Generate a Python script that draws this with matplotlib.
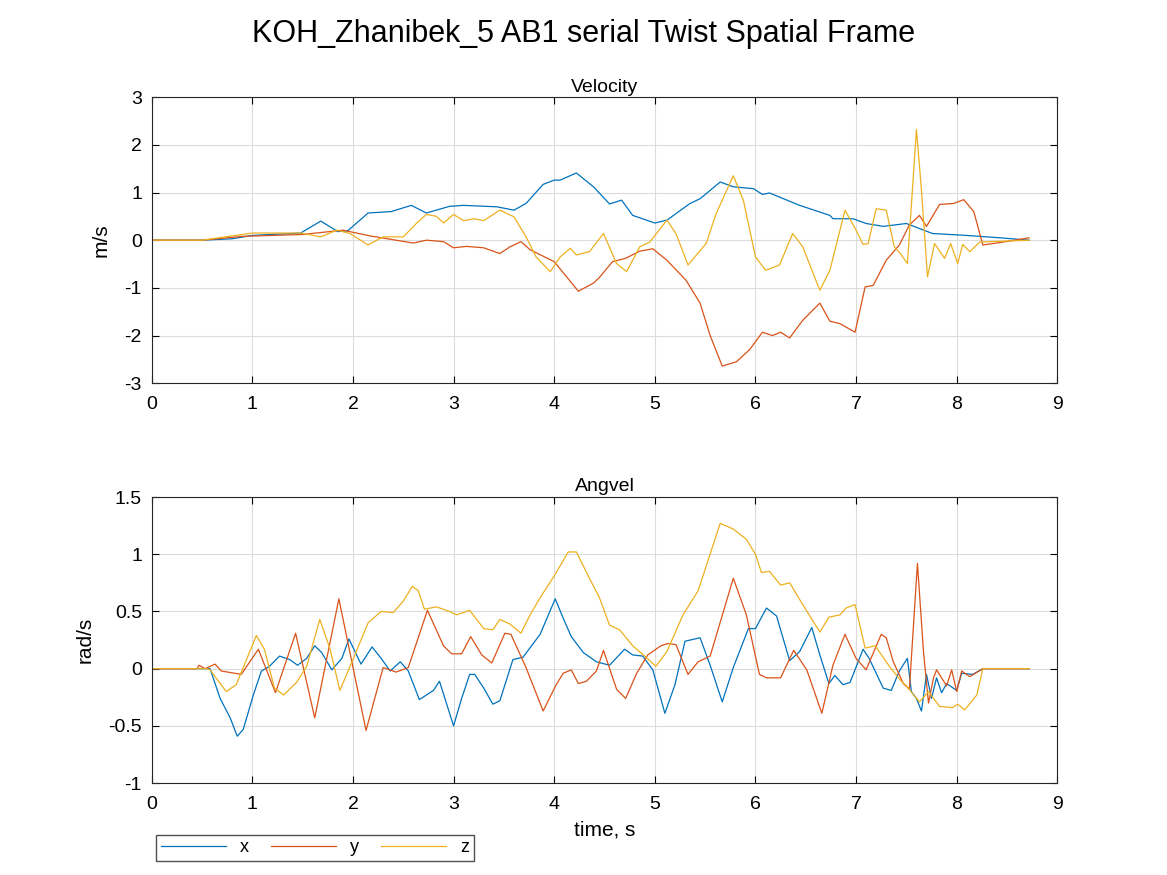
import numpy as np
import matplotlib
matplotlib.use("Agg")
import matplotlib.pyplot as plt

plt.rcParams['font.family'] = ['Liberation Sans', 'DejaVu Sans']
plt.rcParams['axes.unicode_minus'] = False

# ---- Velocity (m/s) ----
vx_t = [0, 0.5, 0.8, 1.0, 1.48, 1.68, 1.85, 1.95, 2.15, 2.38, 2.58, 2.73, 2.96, 3.1, 3.43, 3.6, 3.72, 3.89, 4.0, 4.06,
        4.22, 4.39, 4.55, 4.67, 4.78, 5.0, 5.12, 5.35, 5.45, 5.65, 5.78, 5.98, 6.07, 6.14, 6.44, 6.74, 6.77, 6.97, 7.1,
        7.27, 7.5, 7.76, 8.1, 8.43, 8.72]
vx = [0, 0, 0.03, 0.1, 0.15, 0.4, 0.18, 0.2, 0.57, 0.6, 0.73, 0.57, 0.71, 0.73, 0.7, 0.63, 0.77, 1.17, 1.26, 1.26,
      1.41, 1.12, 0.76, 0.84, 0.52, 0.36, 0.42, 0.77, 0.87, 1.22, 1.12, 1.08, 0.96, 0.99, 0.73, 0.52, 0.45, 0.45, 0.35,
      0.29, 0.35, 0.14, 0.1, 0.05, 0.0]

vy_t = [0, 0.5, 0.9, 1.5, 1.9, 2.17, 2.6, 2.73, 2.9, 3.0, 3.13, 3.3, 3.46, 3.56, 3.67, 3.76, 4.0, 4.24, 4.39, 4.45,
        4.58, 4.71, 4.85, 4.98, 5.12, 5.31, 5.45, 5.55, 5.67, 5.81, 5.94, 6.07, 6.17, 6.25, 6.34, 6.47, 6.64, 6.74,
        6.84, 6.99, 7.09, 7.17, 7.3, 7.43, 7.53, 7.63, 7.7, 7.83, 7.97, 8.07, 8.17, 8.26, 8.43, 8.72]
vy = [0, 0, 0.08, 0.12, 0.21, 0.09, -0.06, 0, -0.03, -0.16, -0.13, -0.16, -0.28, -0.14, -0.03, -0.2, -0.45, -1.07,
      -0.9, -0.78, -0.45, -0.38, -0.23, -0.18, -0.42, -0.84, -1.32, -2.0, -2.64, -2.55, -2.3, -1.93, -2.0, -1.93,
      -2.05, -1.68, -1.32, -1.7, -1.75, -1.93, -0.98, -0.95, -0.42, -0.1, 0.32, 0.52, 0.29, 0.75, 0.77, 0.85, 0.6,
      -0.1, -0.05, 0.05]

vz_t = [0, 0.5, 1.0, 1.48, 1.68, 1.84, 1.97, 2.15, 2.3, 2.5, 2.63, 2.73, 2.83, 2.9, 3.0, 3.1, 3.2, 3.3, 3.46, 3.6,
        3.72, 3.82, 3.96, 4.06, 4.16, 4.22, 4.35, 4.49, 4.62, 4.72, 4.85, 4.95, 5.12, 5.21, 5.33, 5.51, 5.61, 5.78,
        5.88, 6.0, 6.1, 6.24, 6.37, 6.47, 6.64, 6.74, 6.89, 7.0, 7.07, 7.12, 7.2, 7.3, 7.38, 7.44, 7.51, 7.56, 7.6,
        7.65, 7.71, 7.78, 7.88, 7.94, 8.01, 8.06, 8.13, 8.23, 8.72]
vz = [0, 0, 0.15, 0.15, 0.07, 0.21, 0.14, -0.1, 0.07, 0.07, 0.35, 0.54, 0.5, 0.36, 0.54, 0.41, 0.45, 0.41, 0.63,
      0.49, 0.07, -0.35, -0.66, -0.35, -0.17, -0.31, -0.24, 0.14, -0.49, -0.66, -0.14, -0.04, 0.42, 0.14, -0.52,
      -0.07, 0.56, 1.35, 0.84, -0.35, -0.63, -0.52, 0.14, -0.14, -1.05, -0.63, 0.63, 0.21, -0.09, -0.07, 0.66, 0.63,
      -0.14, -0.28, -0.49, 1.05, 2.32, 1.05, -0.77, -0.07, -0.38, -0.07, -0.49, -0.09, -0.24, -0.04, 0.0]

# ---- Angular velocity (rad/s) ----
wx_t = [0, 0.58, 0.68, 0.78, 0.85, 0.91, 1.01, 1.09, 1.17, 1.27, 1.37, 1.45, 1.54, 1.62, 1.69, 1.79, 1.89, 1.96,
        2.08, 2.19, 2.28, 2.37, 2.47, 2.55, 2.66, 2.8, 2.86, 3.0, 3.08, 3.16, 3.21, 3.3, 3.39, 3.46, 3.59, 3.69, 3.86,
        4.01, 4.09, 4.17, 4.29, 4.42, 4.55, 4.7, 4.78, 4.88, 4.98, 5.1, 5.2, 5.3, 5.45, 5.55, 5.67, 5.78, 5.93, 6.0,
        6.11, 6.21, 6.34, 6.44, 6.56, 6.64, 6.73, 6.79, 6.87, 6.94, 7.07, 7.13, 7.27, 7.35, 7.43, 7.51, 7.55, 7.6,
        7.65, 7.7, 7.75, 7.8, 7.85, 7.9, 8.0, 8.05, 8.16, 8.26, 8.72]
wx = [0, 0, -0.26, -0.43, -0.59, -0.53, -0.23, -0.02, 0.02, 0.11, 0.08, 0.03, 0.09, 0.2, 0.14, -0.01, 0.09, 0.26,
      0.04, 0.19, 0.09, -0.02, 0.06, -0.02, -0.27, -0.19, -0.11, -0.5, -0.26, -0.05, -0.05, -0.17, -0.31, -0.28,
      0.08, 0.1, 0.3, 0.61, 0.44, 0.28, 0.14, 0.06, 0.03, 0.17, 0.12, 0.11, -0.01, -0.39, -0.14, 0.24, 0.27, 0.03,
      -0.29, 0.01, 0.35, 0.35, 0.53, 0.46, 0.07, 0.15, 0.36, 0.12, -0.13, -0.06, -0.14, -0.12, 0.17, 0.09, -0.17,
      -0.19, -0.02, 0.09, -0.2, -0.26, -0.37, -0.05, -0.26, -0.08, -0.21, -0.13, -0.19, -0.04, -0.05, 0, 0]

wy_t = [0, 0.45, 0.47, 0.53, 0.63, 0.69, 0.89, 1.06, 1.23, 1.43, 1.62, 1.86, 2.13, 2.3, 2.43, 2.55, 2.74, 2.9, 2.98,
        3.08, 3.17, 3.28, 3.38, 3.51, 3.57, 3.72, 3.89, 4.02, 4.09, 4.17, 4.24, 4.32, 4.42, 4.49, 4.62, 4.71, 4.82,
        4.93, 5.06, 5.13, 5.21, 5.33, 5.43, 5.55, 5.78, 5.91, 6.04, 6.11, 6.25, 6.38, 6.51, 6.66, 6.77, 6.89, 7.0,
        7.1, 7.25, 7.3, 7.37, 7.47, 7.53, 7.61, 7.67, 7.72, 7.77, 7.8, 7.9, 7.95, 8.0, 8.05, 8.13, 8.26, 8.72]
wy = [0, 0, 0.03, 0, 0.04, -0.02, -0.05, 0.17, -0.21, 0.31, -0.43, 0.61, -0.54, 0.01, -0.03, 0.01, 0.51, 0.2,
      0.13, 0.13, 0.28, 0.12, 0.05, 0.31, 0.3, 0.01, -0.37, -0.14, -0.04, -0.01, -0.13, -0.11, -0.02, 0.16, -0.18,
      -0.26, -0.04, 0.12, 0.2, 0.22, 0.21, -0.05, 0.06, 0.11, 0.79, 0.47, -0.05, -0.08, -0.08, 0.16, -0.01, -0.39,
      0.03, 0.3, 0.09, -0.01, 0.3, 0.27, 0.06, -0.13, -0.18, 0.92, 0.15, -0.3, -0.08, -0.01, -0.15, -0.01, -0.2,
      -0.02, -0.07, 0, 0]

wz_t = [0, 0.55, 0.58, 0.74, 0.84, 1.04, 1.12, 1.22, 1.31, 1.44, 1.54, 1.67, 1.77, 1.87, 2.0, 2.15, 2.28, 2.4, 2.5,
        2.59, 2.65, 2.71, 2.83, 2.96, 3.03, 3.16, 3.3, 3.39, 3.46, 3.56, 3.67, 3.76, 3.86, 4.0, 4.14, 4.22, 4.35,
        4.45, 4.55, 4.65, 4.78, 4.9, 5.01, 5.12, 5.28, 5.43, 5.65, 5.78, 5.91, 6.0, 6.06, 6.14, 6.25, 6.34, 6.47,
        6.64, 6.73, 6.84, 6.9, 6.99, 7.09, 7.19, 7.34, 7.45, 7.5, 7.63, 7.72, 7.83, 7.96, 8.01, 8.08, 8.2, 8.26, 8.72]
wz = [0, 0, -0.01, -0.2, -0.14, 0.29, 0.17, -0.17, -0.23, -0.12, 0.02, 0.43, 0.18, -0.19, 0.08, 0.4, 0.5, 0.49,
      0.59, 0.72, 0.68, 0.52, 0.54, 0.5, 0.47, 0.51, 0.35, 0.34, 0.43, 0.39, 0.31, 0.47, 0.62, 0.81, 1.02, 1.02,
      0.79, 0.62, 0.38, 0.34, 0.2, 0.11, 0.02, 0.15, 0.47, 0.68, 1.27, 1.22, 1.13, 1.0, 0.84, 0.85, 0.73, 0.75,
      0.56, 0.32, 0.45, 0.47, 0.53, 0.56, 0.18, 0.2, 0.01, -0.11, -0.15, -0.29, -0.2, -0.33, -0.34, -0.31, -0.36,
      -0.23, 0, 0]

colors = ['#0072BD', '#D95319', '#EDB120']
labels = ['x', 'y', 'z']

fig = plt.figure(figsize=(11.67, 8.75), dpi=100)
ax1 = fig.add_axes([0.130, 0.562, 0.776, 0.327])
ax2 = fig.add_axes([0.130, 0.105, 0.776, 0.327])

for t, v, c, l in zip([vx_t, vy_t, vz_t], [vx, vy, vz], colors, labels):
    ax1.plot(t, v, color=c, lw=0.9, label=l)
for t, v, c in zip([wx_t, wy_t, wz_t], [wx, wy, wz], colors):
    ax2.plot(t, v, color=c, lw=0.9)

ax1.set_xlim(0, 9)
ax1.set_ylim(-3, 3)
ax1.set_ylabel('m/s', fontsize=15, labelpad=10)
ax1.set_title('Velocity', fontsize=14, pad=4)

ax2.set_xlim(0, 9)
ax2.set_ylim(-1, 1.5)
ax2.set_yticks([-1, -0.5, 0, 0.5, 1, 1.5])
ax2.set_yticklabels(['-1', '-0.5', '0', '0.5', '1', '1.5'])
ax2.set_ylabel('rad/s', fontsize=15, labelpad=10)
ax2.set_xlabel('time, s', fontsize=15, labelpad=6)
ax2.set_title('Angvel', fontsize=14, pad=4)

for ax in (ax1, ax2):
    ax.set_xticks(range(10))
    ax.grid(True, color='#dcdcdc', lw=0.8)
    ax.set_axisbelow(True)
    ax.tick_params(direction='in', top=True, right=True, labelsize=14, length=5)
    ax.tick_params(axis='x', pad=9)
    ax.tick_params(axis='y', pad=7)
    for s in ax.spines.values():
        s.set_linewidth(0.8)
        s.set_color('#262626')

fig.suptitle('KOH_Zhanibek_5 AB1 serial Twist Spatial Frame', fontsize=22, y=0.978)

fig.legend(loc='lower left', bbox_to_anchor=(156 / 1167, 1 - 861 / 875), ncol=3, fontsize=13,
           frameon=True, fancybox=False, edgecolor='#262626', handlelength=3.6, columnspacing=1.2,
           handletextpad=0.8, borderpad=0.25, borderaxespad=0)

fig.savefig('out.png', dpi=100)
